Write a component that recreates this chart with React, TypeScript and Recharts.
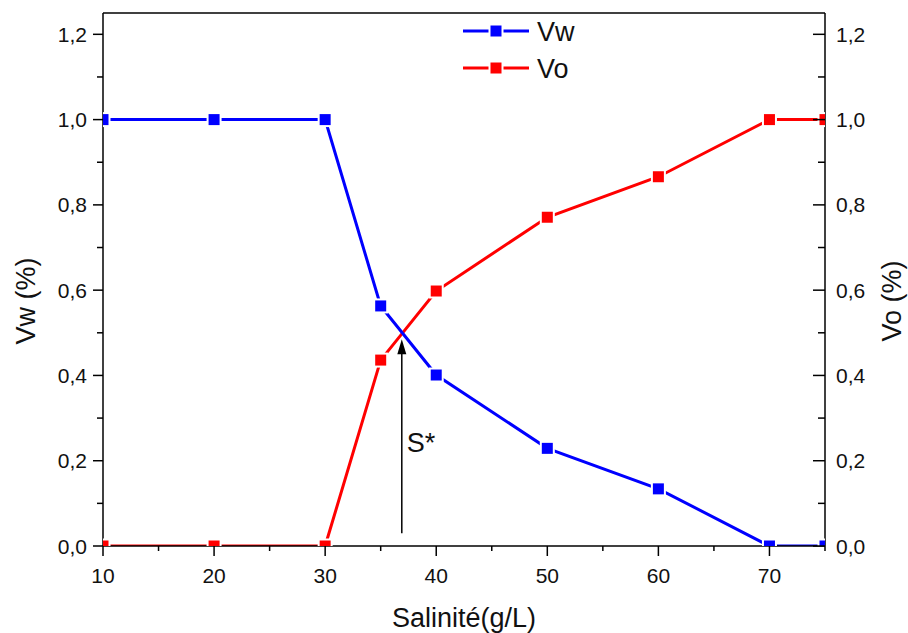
import React from 'react';
import {
  LineChart, Line, XAxis, YAxis, ReferenceLine,
} from 'recharts';

const salinity = [10, 20, 30, 35, 40, 50, 60, 70, 75];
const vwValues = [1.0, 1.0, 1.0, 0.563, 0.401, 0.229, 0.134, 0.0, 0.0];
const voValues = [0.0, 0.0, 0.0, 0.436, 0.598, 0.771, 0.866, 1.0, 1.0];

const xTicks = [10, 15, 20, 25, 30, 35, 40, 45, 50, 55, 60, 65, 70, 75];
const yTicks = [0, 0.1, 0.2, 0.3, 0.4, 0.5, 0.6, 0.7, 0.8, 0.9, 1.0, 1.1, 1.2];

const sStar = 36.9;

const data = salinity.map((s, i) => ({ s, vw: vwValues[i], vo: voValues[i] }));

const FONT = '"Liberation Sans", Arial, sans-serif';
const INK = '#111';
const BLUE = '#0000ff';
const RED = '#ff0000';

const fmt = (v: number) => v.toFixed(1).replace('.', ',');
const isMajorY = (v: number) => Math.round(v * 10) % 2 === 0;

const LeftTick = ({ x, y, payload }: any) => {
  const major = isMajorY(payload.value);
  return (
    <g>
      <line x1={x} x2={x - (major ? 10 : 6)} y1={y} y2={y} stroke="#000" strokeWidth={1.5} />
      {major && (
        <text x={x - 16} y={y + 7.5} textAnchor="end" fontSize={21} fontFamily={FONT} fill={INK}>
          {fmt(payload.value)}
        </text>
      )}
    </g>
  );
};

const RightTick = ({ x, y, payload }: any) => {
  const major = isMajorY(payload.value);
  return (
    <g>
      <line x1={x} x2={x - (major ? 12 : 7)} y1={y} y2={y} stroke="#000" strokeWidth={1.5} />
      {major && (
        <text x={x + 11} y={y + 7.5} textAnchor="start" fontSize={21} fontFamily={FONT} fill={INK}>
          {fmt(payload.value)}
        </text>
      )}
    </g>
  );
};

const BottomTick = ({ x, y, payload }: any) => {
  const major = payload.value % 10 === 0;
  return (
    <g>
      <line x1={x} x2={x} y1={y} y2={y + (major ? 10 : 5)} stroke="#000" strokeWidth={1.5} />
      {major && (
        <text x={x} y={y + 37} textAnchor="middle" fontSize={21} fontFamily={FONT} fill={INK}>
          {payload.value}
        </text>
      )}
    </g>
  );
};

const squareDot = (color: string) => (props: any) => {
  const { cx, cy, index } = props;
  if (cx == null || cy == null) return <g key={index} />;
  return (
    <rect key={index} x={cx - 6.5} y={cy - 6.5} width={13} height={13}
      fill={color} stroke="#fff" strokeWidth={2} />
  );
};

const ArrowShape = (props: any) => {
  const { x1, y1, x2, y2 } = props;
  if (x1 == null) return null;
  const textY = y1 + (y2 - y1) * ((0.22 - 0.03) / (0.485 - 0.03));
  return (
    <g>
      <line x1={x1} y1={y1} x2={x2} y2={y2 + 10} stroke="#000" strokeWidth={1.5} />
      <polygon points={`${x2},${y2} ${x2 - 4.5},${y2 + 15} ${x2 + 4.5},${y2 + 15}`} fill="#000" />
      <text x={x1 + 5} y={textY} fontSize={27} fontFamily={FONT} fill={INK}>S*</text>
    </g>
  );
};

// legend drawn as an overlay so it does not push the plot down
const LegendBox = () => {
  const rows = [
    { name: 'Vw', color: BLUE, y: 18 },
    { name: 'Vo', color: RED, y: 55 },
  ];
  return (
    <svg width={140} height={75} style={{ position: 'absolute', left: 455, top: 13 }}>
      {rows.map((r) => (
        <g key={r.name}>
          <line x1={8} x2={74} y1={r.y} y2={r.y} stroke={r.color} strokeWidth={3} />
          <rect x={34.5} y={r.y - 6.5} width={13} height={13} fill={r.color} stroke="#fff" strokeWidth={2} />
          <text x={82} y={r.y + 10} fontSize={27} fontFamily={FONT} fill={INK}>{r.name}</text>
        </g>
      ))}
    </svg>
  );
};

export default function App() {
  return (
    <div style={{ position: 'absolute', left: 0, top: 0, width: 908, height: 633, background: '#fff' }}>
      <LineChart width={908} height={633} data={data}
        margin={{ top: 13, right: 0, bottom: 0, left: 0 }}>
        <XAxis dataKey="s" type="number" domain={[10, 75]} ticks={xTicks} interval={0}
          allowDataOverflow height={87} tickSize={0} tickMargin={0}
          tick={<BottomTick />} tickLine={false}
          axisLine={{ stroke: '#000', strokeWidth: 1.5 }}
          label={{
            content: () => (
              <text x={464} y={627} textAnchor="middle" fontSize={27} fontFamily={FONT} fill={INK}>
                Salinité(g/L)
              </text>
            ),
          }} />
        <YAxis yAxisId="left" domain={[0, 1.25]} ticks={yTicks} interval={0}
          allowDataOverflow width={103} tickSize={0} tickMargin={0}
          tick={<LeftTick />} tickLine={false}
          axisLine={{ stroke: '#000', strokeWidth: 1.5 }}
          label={{
            content: () => (
              <text x={0} y={0} transform="translate(26,301) rotate(-90)" textAnchor="middle"
                dominantBaseline="central" fontSize={27} fontFamily={FONT} fill={INK}>
                Vw (%)
              </text>
            ),
          }} />
        <YAxis yAxisId="right" orientation="right" domain={[0, 1.25]} ticks={yTicks} interval={0}
          allowDataOverflow width={83} tickSize={0} tickMargin={0}
          tick={<RightTick />} tickLine={false}
          axisLine={{ stroke: '#000', strokeWidth: 1.5 }}
          label={{
            content: () => (
              <text x={0} y={0} transform="translate(892,301) rotate(-90)" textAnchor="middle"
                dominantBaseline="central" fontSize={27} fontFamily={FONT} fill={INK}>
                Vo (%)
              </text>
            ),
          }} />
        <ReferenceLine yAxisId="left" y={1.25} stroke="#000" strokeWidth={1.5} />
        <Line yAxisId="right" dataKey="vo" name="Vo" stroke={RED} strokeWidth={3}
          dot={squareDot(RED)} activeDot={false} isAnimationActive={false} />
        <Line yAxisId="left" dataKey="vw" name="Vw" stroke={BLUE} strokeWidth={3}
          dot={squareDot(BLUE)} activeDot={false} isAnimationActive={false} />
        <ReferenceLine yAxisId="left"
          segment={[{ x: sStar, y: 0.03 }, { x: sStar, y: 0.485 }]}
          shape={<ArrowShape />} />
      </LineChart>
      <LegendBox />
    </div>
  );
}
